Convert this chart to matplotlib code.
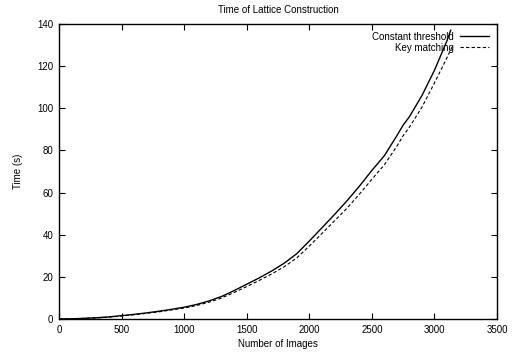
import matplotlib
matplotlib.use("Agg")
import matplotlib.pyplot as plt

plt.rcParams['font.family'] = ['Liberation Sans', 'DejaVu Sans']

x_const = [0, 100, 200, 300, 400, 500, 600, 700, 800, 900, 1000, 1100, 1200, 1300, 1400,
           1500, 1600, 1700, 1800, 1900, 2000, 2100, 2200, 2300, 2400, 2500, 2600, 2700,
           2750, 2800, 2900, 3000, 3100, 3130]
y_const = [0, 0.1, 0.3, 0.6, 1.0, 1.6, 2.2, 2.9, 3.7, 4.6, 5.6, 6.9, 8.6, 10.7, 13.5,
           16.5, 19.5, 22.8, 26.5, 31, 37, 43.2, 49.5, 56, 63, 70.5, 77.5, 87,
           92, 96, 106, 118, 132, 137]

x_key = [0, 100, 200, 300, 400, 500, 600, 700, 800, 900, 1000, 1100, 1200, 1300, 1400,
         1500, 1600, 1700, 1800, 1900, 2000, 2100, 2200, 2300, 2400, 2500, 2600, 2700,
         2750, 2800, 2900, 3000, 3100, 3140]
y_key = [0, 0.1, 0.3, 0.5, 0.9, 1.4, 2.0, 2.7, 3.4, 4.3, 5.2, 6.4, 8.0, 10.0, 12.6,
         15.4, 18.3, 21.4, 24.8, 29.0, 34.6, 40.5, 46.5, 52.5, 59.2, 66.3, 73.2, 82,
         87, 91, 100.5, 112, 124, 129]

x_ticks = [0, 500, 1000, 1500, 2000, 2500, 3000, 3500]
y_ticks = [0, 20, 40, 60, 80, 100, 120, 140]

fig = plt.figure(figsize=(5.15, 3.54), dpi=100)
ax = fig.add_axes([59/515, (354-319)/354, (497-59)/515, (319-24)/354])

ax.plot(x_const, y_const, color='black', lw=1.0, ls='-', label='Constant threshold')
ax.plot(x_key, y_key, color='black', lw=0.8, ls=(0, (3, 2)), label='Key matching')

ax.set_xlim(0, 3500)
ax.set_ylim(0, 140)
ax.set_xticks(x_ticks)
ax.set_yticks(y_ticks)
ax.tick_params(direction='in', length=4, width=0.8, top=True, right=True,
               labelsize=7, pad=4)
for s in ax.spines.values():
    s.set_linewidth(1.0)

ax.set_xlabel('Number of Images', fontsize=7, labelpad=3)
ax.set_ylabel('Time (s)', fontsize=7, labelpad=10)
ax.set_title('Time of Lattice Construction', fontsize=7, pad=8)

ax.legend(loc='upper right', frameon=False, markerfirst=False, fontsize=7,
          handlelength=3.0, handletextpad=0.6, labelspacing=0.1,
          borderaxespad=0.3, borderpad=0.5)

fig.savefig('out.png', dpi=100)
